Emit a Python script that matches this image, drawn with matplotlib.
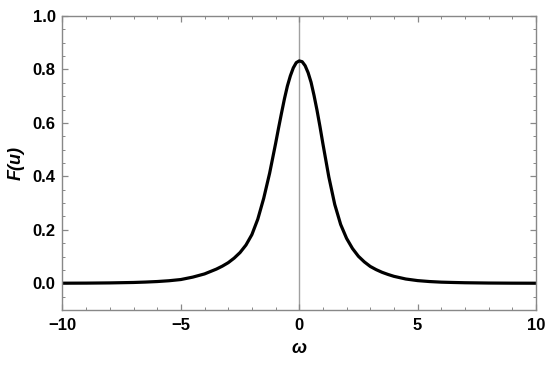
import matplotlib
matplotlib.use("Agg")
import matplotlib.pyplot as plt
from matplotlib.ticker import MultipleLocator

omega = [-10, -9, -8, -7, -6.5, -6, -5.5, -5, -4.5, -4, -3.75, -3.5, -3.25, -3,
         -2.75, -2.5, -2.25, -2, -1.75, -1.5, -1.25, -1, -0.875, -0.75, -0.625,
         -0.5, -0.375, -0.25, -0.125, 0,
         0.125, 0.25, 0.375, 0.5, 0.625, 0.75, 0.875, 1, 1.25, 1.5, 1.75, 2,
         2.25, 2.5, 2.75, 3, 3.25, 3.5, 3.75, 4, 4.5, 5, 5.5, 6, 6.5, 7, 8, 9, 10]
F_vals = [0.0003, 0.0006, 0.0014, 0.003, 0.0045, 0.0065, 0.0095, 0.014, 0.023,
          0.035, 0.044, 0.053, 0.064, 0.077,
          0.094, 0.115, 0.143, 0.182, 0.240, 0.318, 0.412, 0.522, 0.580, 0.636,
          0.690, 0.738, 0.776, 0.806, 0.8255, 0.832,
          0.829, 0.814, 0.788, 0.752, 0.703, 0.648, 0.587, 0.522, 0.398, 0.295,
          0.220, 0.168, 0.130, 0.101, 0.080, 0.063, 0.051, 0.041, 0.033, 0.026,
          0.016, 0.010, 0.0065, 0.0042, 0.003, 0.002, 0.0009, 0.0004, 0.0002]

x_ticks = [-10, -5, 0, 5, 10]
y_ticks = [0.0, 0.2, 0.4, 0.6, 0.8, 1.0]

plt.rcParams['font.family'] = ['Liberation Sans', 'DejaVu Sans']

fig = plt.figure(figsize=(5.5, 3.67), dpi=100)
ax = fig.add_axes([0.1136, 0.1553, 0.8609, 0.8011])

ax.axvline(0, color='#a0a0a0', lw=1.0, zorder=1)
ax.plot(omega, F_vals, color='black', lw=2.3, zorder=2,
        solid_capstyle='round', solid_joinstyle='round')

ax.set_xlim(-10, 10)
ax.set_ylim(-0.1, 1.0)
ax.set_xticks(x_ticks)
ax.set_yticks(y_ticks)
ax.set_xticklabels(['\u221210', '\u22125', '0', '5', '10'])
ax.set_yticklabels([f'{v:.1f}' for v in y_ticks])
ax.xaxis.set_minor_locator(MultipleLocator(1))
ax.yaxis.set_minor_locator(MultipleLocator(0.05))

frame_c = '#888888'
for s in ax.spines.values():
    s.set_color(frame_c)
    s.set_linewidth(1.0)
ax.tick_params(which='both', direction='in', top=True, right=True, color=frame_c)
ax.tick_params(which='major', length=4, width=0.9)
ax.tick_params(which='minor', length=2.2, width=0.7)
ax.tick_params(labelsize=12)
for lab in ax.get_xticklabels() + ax.get_yticklabels():
    lab.set_fontweight('bold')
ax.tick_params(axis='x', pad=6)
ax.tick_params(axis='y', pad=5)

ax.set_xlabel('\u03c9', fontsize=13, fontweight='bold', fontstyle='italic', labelpad=5)
ax.set_ylabel('F(u)', fontsize=13, fontweight='bold', fontstyle='italic', labelpad=6)

fig.savefig('out.png', dpi=100)
